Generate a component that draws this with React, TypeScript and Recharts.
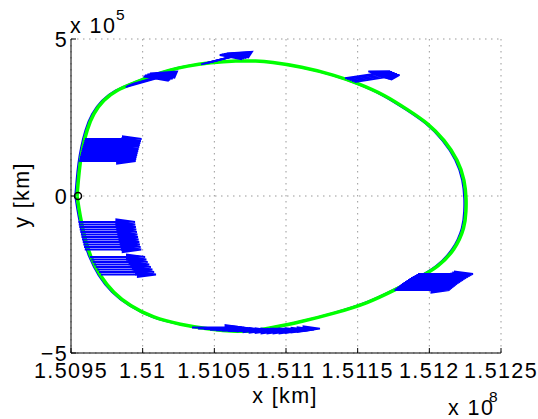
import React from 'react';
import { CartesianGrid, Scatter, ScatterChart, XAxis, YAxis } from 'recharts';

// x is in units of 1e8 km, y in units of 1e5 km (same as the axis ticks)
const xTicks = [1.5095, 1.51, 1.5105, 1.511, 1.5115, 1.512, 1.5125];
const yTicks = [-5, 0, 5];

// reference halo orbit (green)
const orbitRef: [number, number][] = [
  [1.509542, 0], [1.509551, 0.51], [1.509563, 1.05], [1.509582, 1.56], [1.50961, 2.1],
  [1.509656, 2.63], [1.509725, 3.06], [1.509819, 3.38], [1.509935, 3.59], [1.510074, 3.85],
  [1.510191, 4.01], [1.510307, 4.14], [1.51047, 4.25], [1.510656, 4.31], [1.510796, 4.3],
  [1.510888, 4.27], [1.511107, 4.12], [1.51134, 3.85], [1.511502, 3.59], [1.511689, 3.22],
  [1.511851, 2.74], [1.511991, 2.32], [1.512107, 1.78], [1.5122, 1.15], [1.512247, 0.51],
  [1.512258, -0.13], [1.512256, -0.45], [1.512249, -0.99], [1.512179, -1.72], [1.512061, -2.26],
  [1.511935, -2.58], [1.511761, -2.99], [1.511572, -3.41], [1.511342, -3.73], [1.511105, -4.01],
  [1.510874, -4.22], [1.510784, -4.3], [1.510656, -4.32], [1.51047, -4.25], [1.51026, -4.09],
  [1.510074, -3.88], [1.509912, -3.5], [1.509795, -3.08], [1.509702, -2.55], [1.509633, -1.91],
  [1.509598, -1.38], [1.509563, -0.64],
];

// flown trajectory (blue)
const orbitFlown: [number, number][] = [
  [1.509528, 0], [1.509537, 0.51], [1.509549, 1.05], [1.509568, 1.56], [1.509596, 2.1],
  [1.509642, 2.63], [1.509711, 3.06], [1.509805, 3.38], [1.509921, 3.59], [1.51006, 3.85],
  [1.510177, 4.01], [1.510293, 4.14], [1.510456, 4.25], [1.510642, 4.31], [1.510782, 4.3],
  [1.510874, 4.27], [1.511093, 4.12], [1.511326, 3.85], [1.511488, 3.59], [1.511675, 3.22],
  [1.511837, 2.74], [1.511977, 2.32], [1.512093, 1.78], [1.512186, 1.15], [1.512233, 0.51],
  [1.512244, -0.13], [1.512242, -0.45], [1.512235, -0.99], [1.512165, -1.72], [1.512047, -2.26],
  [1.511921, -2.58], [1.511747, -2.99], [1.511558, -3.41], [1.511328, -3.73], [1.511091, -4.01],
  [1.51086, -4.22], [1.51077, -4.3], [1.510642, -4.32], [1.510456, -4.25], [1.510246, -4.09],
  [1.51006, -3.88], [1.509898, -3.5], [1.509781, -3.08], [1.509688, -2.55], [1.509619, -1.91],
  [1.509584, -1.38], [1.509549, -0.64],
];

// thrust arrows: [x0, y0, u (km), v (km)]
type Arrow = [number, number, number, number];

const thrustUpperLeft: Arrow[] = [
  [1.509598, 1.815, 39420, 0], [1.509593, 1.752, 39420, 0], [1.509589, 1.688, 39420, 0],
  [1.509585, 1.624, 39420, 0], [1.509581, 1.561, 39420, 0], [1.509577, 1.497, 39420, 0],
  [1.509574, 1.433, 39420, 0], [1.50957, 1.369, 39420, 0], [1.509567, 1.306, 39420, 0],
  [1.509563, 1.242, 39420, 0], [1.50956, 1.178, 39420, 0], [1.509557, 1.115, 39420, 0],
];

const thrustLowerLeftA: Arrow[] = [
  [1.509552, -0.828, 39420, 0], [1.509554, -0.908, 39420, 0], [1.509558, -0.987, 39420, 0],
  [1.509561, -1.067, 39420, 0], [1.509565, -1.146, 39420, 0], [1.509569, -1.226, 39420, 0],
  [1.509573, -1.306, 39420, 0], [1.509577, -1.385, 39420, 0], [1.509582, -1.465, 39420, 0],
  [1.509586, -1.545, 39420, 0], [1.509591, -1.624, 39420, 0], [1.509596, -1.704, 39420, 0],
];

const thrustLowerLeftB: Arrow[] = [
  [1.509633, -1.943, 38370, 0], [1.509642, -2.022, 38370, 0], [1.509651, -2.102, 38370, 0],
  [1.509662, -2.182, 38370, 0], [1.509673, -2.261, 38370, 0], [1.509684, -2.341, 38370, 0],
  [1.509696, -2.42, 38370, 0], [1.509709, -2.5, 38370, 0],
];

const thrustTopLeft: Arrow[] = [
  [1.509881, 3.471, 31400, 39810], [1.509891, 3.503, 31400, 39810],
  [1.509908, 3.535, 31400, 39810], [1.509926, 3.567, 31400, 39810],
];

const thrustTop: Arrow[] = [
  [1.510407, 4.19, 30700, 35030], [1.510421, 4.21, 30700, 35030],
  [1.510438, 4.226, 30700, 35030], [1.510456, 4.242, 30700, 35030],
];

const thrustTopRight: Arrow[] = [
  [1.511412, 3.75, 31400, 22290], [1.511426, 3.726, 31400, 22290], [1.511443, 3.694, 31400, 22290],
  [1.51146, 3.662, 31400, 22290], [1.511478, 3.631, 31400, 22290],
];

const thrustBottom: Arrow[] = [
  [1.510344, -4.188, 34880, 0], [1.510386, -4.22, 34880, 0], [1.510428, -4.242, 34880, 0],
  [1.51047, -4.261, 34880, 0], [1.510512, -4.277, 34880, 0], [1.510554, -4.29, 34880, 0],
  [1.510595, -4.299, 34880, 0], [1.510637, -4.306, 34880, 0], [1.510679, -4.306, 34880, 0],
  [1.510721, -4.299, 34880, 0], [1.510763, -4.29, 34880, 0], [1.510805, -4.274, 34880, 0],
  [1.510847, -4.252, 34880, 0], [1.510888, -4.226, 34880, 0],
];

const thrustBottomRight: Arrow[] = [
  [1.511921, -2.484, 38370, 0], [1.511909, -2.516, 38370, 0], [1.511897, -2.548, 38370, 0],
  [1.511884, -2.58, 38370, 0], [1.511872, -2.611, 38370, 0], [1.511861, -2.643, 38370, 0],
  [1.511851, -2.675, 38370, 0], [1.51184, -2.707, 38370, 0], [1.51183, -2.739, 38370, 0],
  [1.511819, -2.771, 38370, 0], [1.511809, -2.803, 38370, 0], [1.5118, -2.835, 38370, 0],
  [1.511792, -2.866, 38370, 0], [1.511783, -2.898, 38370, 0], [1.511774, -2.93, 38370, 0],
  [1.511765, -2.962, 38370, 0], [1.511757, -2.994, 38370, 0],
];

const startPoint = [{ x: 1.509549, y: 0 }];

// quiver-style arrow: shaft, then a filled head (base -> wing -> tip -> wing -> base)
const HEAD_LEN = 0.33;
const HEAD_WIDTH = 0.65;
const arrowPoints = ([x0, y0, u, v]: Arrow) => {
  const tx = x0 + u / 1e8;
  const ty = y0 + v / 1e5;
  const base = { x: tx - (HEAD_LEN * u) / 1e8, y: ty - (HEAD_LEN * v) / 1e5 };
  return [
    { x: x0, y: y0 },
    base,
    { x: tx - (HEAD_LEN * (u + HEAD_WIDTH * v)) / 1e8, y: ty - (HEAD_LEN * (v - HEAD_WIDTH * u)) / 1e5 },
    { x: tx, y: ty },
    { x: tx - (HEAD_LEN * (u - HEAD_WIDTH * v)) / 1e8, y: ty - (HEAD_LEN * (v + HEAD_WIDTH * u)) / 1e5 },
    base,
  ];
};

const allArrows = [
  ...thrustUpperLeft, ...thrustLowerLeftA, ...thrustLowerLeftB, ...thrustTopLeft,
  ...thrustTop, ...thrustTopRight, ...thrustBottom, ...thrustBottomRight,
];

const toPoints = (pts: [number, number][]) =>
  [...pts, pts[0]].map(([x, y]) => ({ x, y }));

const noDot = () => <g />;

const fmtY = (v: number) => (v < 0 ? '\u2212' + Math.abs(v) : String(v));

export default function App() {
  return (
    <>
      <style>{'body { margin: 0; }'}</style>
      <div
        style={{
          position: 'relative',
          width: 538,
          height: 419,
          fontFamily: '"Liberation Sans", Arial, Helvetica, sans-serif',
          letterSpacing: '1.4px',
        }}
      >
        <div style={{ position: 'absolute', left: 8, top: 8 }}>
          <ScatterChart width={530} height={403} margin={{ top: 31, right: 37, bottom: 0, left: 0 }}>
            <CartesianGrid stroke="#999999" strokeDasharray="1.5 4.5" />
            <XAxis
              type="number"
              dataKey="x"
              domain={[1.5095, 1.5125]}
              ticks={xTicks}
              interval={0}
              height={58}
              tickSize={-5}
              tickMargin={15}
              tickFormatter={(v: number) => String(v)}
              tick={{ fill: '#000', fontSize: 21.5 }}
              axisLine={{ stroke: '#000' }}
              tickLine={{ stroke: '#000' }}
            />
            <YAxis
              type="number"
              dataKey="y"
              domain={[-5, 5]}
              ticks={yTicks}
              interval={0}
              width={63}
              tickSize={-5}
              tickMargin={8}
              tickFormatter={fmtY}
              tick={{ fill: '#000', fontSize: 21.5 }}
              axisLine={{ stroke: '#000' }}
              tickLine={{ stroke: '#000' }}
            />
            <Scatter
              data={toPoints(orbitFlown)}
              line={{ stroke: '#0000ff', strokeWidth: 1.5 }}
              lineJointType="basis"
              shape={noDot}
              isAnimationActive={false}
            />
            <Scatter
              data={toPoints(orbitRef)}
              line={{ stroke: '#00ff00', strokeWidth: 3.5 }}
              lineJointType="basis"
              shape={noDot}
              isAnimationActive={false}
            />
            {allArrows.map((a, i) => (
              <Scatter
                key={'arrow' + i}
                data={arrowPoints(a)}
                line={{ stroke: '#0000ff', strokeWidth: 1.8, fill: '#0000ff' }}
                shape={noDot}
                isAnimationActive={false}
              />
            ))}
            <Scatter
              data={startPoint}
              shape={(p: any) => (
                <circle cx={p.cx} cy={p.cy} r={3.5} fill="none" stroke="#000" strokeWidth={1.5} />
              )}
              isAnimationActive={false}
            />
          </ScatterChart>
        </div>
        <svg
          width={530}
          height={411}
          style={{ position: 'absolute', left: 8, top: 8, overflow: 'visible', pointerEvents: 'none' }}
        >
          <text x={62} y={25} fontSize={21.5} fill="#000">x 10</text>
          <text x={108} y={12} fontSize={15.5} fill="#000">5</text>
          <text x={440} y={407} fontSize={21.5} fill="#000">x 10</text>
          <text x={481} y={394} fontSize={15.5} fill="#000">8</text>
          <text x={277} y={395} fontSize={21.5} fill="#000" textAnchor="middle">x [km]</text>
          <text
            x={20.5}
            y={187}
            fontSize={21.5}
            fill="#000"
            textAnchor="middle"
            transform="rotate(-90, 20.5, 187)"
          >
            y [km]
          </text>
        </svg>
      </div>
    </>
  );
}
